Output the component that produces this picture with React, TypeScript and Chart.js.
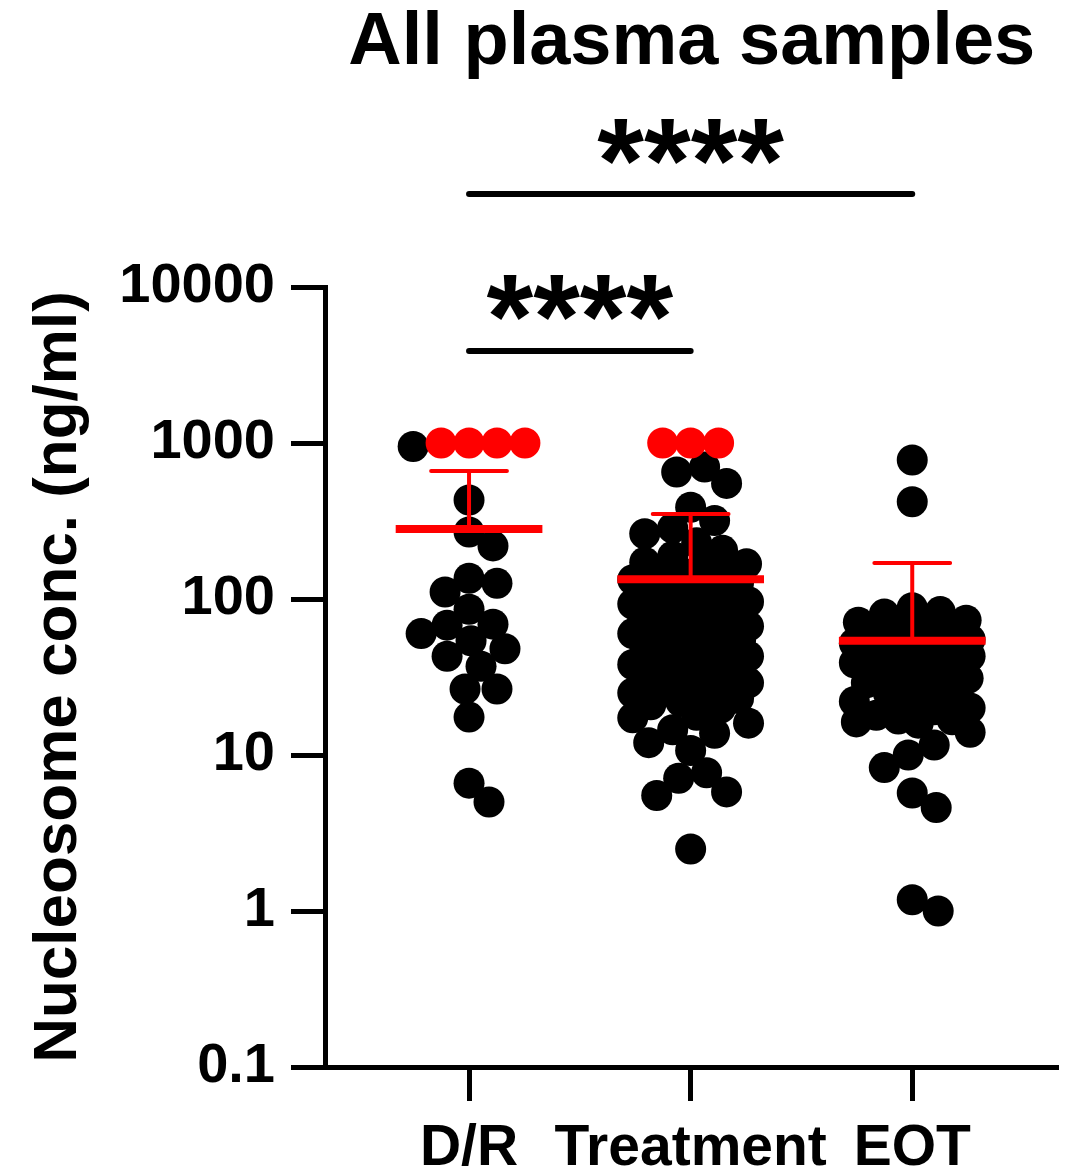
import React, { useEffect, useRef } from 'react';
import { Chart, registerables } from 'chart.js';

Chart.register(...registerables);

// ---------------- data ----------------
const categories = ['D/R', 'Treatment', 'EOT'];
const yTickValues = [0.1, 1, 10, 100, 1000, 10000];
const yTickLabels = ['0.1', '1', '10', '100', '1000', '10000'];

// values at the assay upper limit (shown in red)
const drAboveLimit = [1000, 1000, 1000, 1000];
const trtAboveLimit = [1000, 1000, 1000];
const eotAboveLimit: number[] = [];

const drValues = [950, 431, 269, 219, 136, 126, 111, 86, 69, 68, 60, 54, 48, 43, 37, 26.5, 26.5, 17.5, 6.6, 5.0];

const trtValues = [
  702, 652, 551, 387, 318, 285, 262, 229, 205, 188, 172, 168, 160, 152, 147, 141, 133, 127, 121, 116,
  112, 106, 101, 96, 93, 91, 87, 85, 82, 78, 75, 72, 70, 67, 64, 62, 60, 58, 56, 54, 52, 50, 48, 47,
  45, 43, 42, 40, 38, 37, 35, 34, 32, 31, 29, 28, 27, 26, 25, 24, 23, 22, 21, 20, 18,
  17.3, 16, 14.5, 13.8, 12, 10.7, 7.7, 7.1, 5.8, 5.5, 2.5,
];

const eotValues = [
  778, 420, 88, 83, 80, 73, 71, 66, 63, 60, 57, 55, 52, 50, 48, 47, 46, 44, 43, 41, 39, 37, 35, 33,
  31, 29, 29, 27, 25, 24, 22, 21, 20, 19.5, 18, 17, 16.8, 16.3, 16, 14, 11.6, 10, 8.3, 5.7, 4.6, 1.18, 1.0,
];

const means = [281, 134, 54];
const errorTops = [661, 351, 170];

const significance = [
  { from: 1, to: 3, label: '****' },
  { from: 1, to: 2, label: '****' },
];

const titleText = 'All plasma samples';
const yTitleText = 'Nucleosome conc. (ng/ml)';

// ---------------- styling ----------------
const W = 1074;
const H = 1171;
const FONT = '"Liberation Sans", Arial, Helvetica, sans-serif';
const RED = '#ff0000';
const POINT_R = 15.5;
const MIN_DIST = 27;
const STEP = 2;
const MAX_OFF = 58;
const MEAN_HALF = 0.331;
const CAP_HALF = 0.171;

export default function App() {
  const ref = useRef<HTMLCanvasElement>(null);

  useEffect(() => {
    document.body.style.margin = '0';
    const canvas = ref.current;
    if (!canvas) return;

    const groups = [
      { x: 1, black: drValues, red: drAboveLimit },
      { x: 2, black: trtValues, red: trtAboveLimit },
      { x: 3, black: eotValues, red: eotAboveLimit },
    ];

    const meanLine: any[] = [];
    const errLine: any[] = [];
    means.forEach((m, i) => {
      const x = i + 1;
      meanLine.push({ x: x - MEAN_HALF, y: m }, { x: x + MEAN_HALF, y: m }, { x: x + MEAN_HALF, y: null });
      errLine.push({ x, y: m }, { x, y: errorTops[i] }, { x, y: null });
      errLine.push({ x: x - CAP_HALF, y: errorTops[i] }, { x: x + CAP_HALF, y: errorTops[i] }, { x: x + CAP_HALF, y: null });
    });

    const overlay = {
      id: 'overlay',
      afterDraw(chart: any) {
        const ctx = chart.ctx as CanvasRenderingContext2D;
        const xs = chart.scales.x;
        const area = chart.chartArea;
        ctx.save();
        ctx.fillStyle = '#000';
        ctx.strokeStyle = '#000';

        // title
        ctx.font = `bold 74px ${FONT}`;
        ctx.textAlign = 'center';
        ctx.textBaseline = 'alphabetic';
        ctx.fillText(titleText, (area.left + area.right) / 2, 64);

        // significance bars
        const barYs = [194, 351];
        const starCenters = [141, 297];
        significance.forEach((s, i) => {
          const x1 = xs.getPixelForValue(s.from);
          const x2 = xs.getPixelForValue(s.to);
          ctx.lineWidth = 6;
          ctx.lineCap = 'round';
          ctx.beginPath();
          ctx.moveTo(x1, barYs[i]);
          ctx.lineTo(x2, barYs[i]);
          ctx.stroke();
          ctx.font = `bold 120px ${FONT}`;
          ctx.textAlign = 'center';
          ctx.textBaseline = 'alphabetic';
          const m = ctx.measureText(s.label);
          const base = starCenters[i] - (m.actualBoundingBoxDescent - m.actualBoundingBoxAscent) / 2;
          ctx.fillText(s.label, (x1 + x2) / 2, base);
        });

        // y title
        ctx.save();
        ctx.translate(76, (area.top + area.bottom) / 2);
        ctx.rotate(-Math.PI / 2);
        ctx.font = `bold 62px ${FONT}`;
        ctx.textAlign = 'center';
        ctx.textBaseline = 'alphabetic';
        ctx.fillText(yTitleText, 0, 0);
        ctx.restore();

        ctx.restore();
      },
    };

    const chart = new Chart(canvas, {
      type: 'scatter',
      data: {
        datasets: [
          {
            type: 'line',
            label: 'mean',
            data: meanLine,
            borderColor: RED,
            borderWidth: 8,
            pointRadius: 0,
            spanGaps: false,
            order: 0,
            borderCapStyle: 'butt',
          } as any,
          {
            type: 'line',
            label: 'error',
            data: errLine,
            borderColor: RED,
            borderWidth: 4,
            pointRadius: 0,
            spanGaps: false,
            order: 0,
            borderCapStyle: 'round',
          } as any,
          {
            label: 'above limit',
            data: [],
            backgroundColor: RED,
            borderWidth: 0,
            pointRadius: POINT_R,
            pointHoverRadius: POINT_R,
            order: 1,
          },
          {
            label: 'samples',
            data: [],
            backgroundColor: '#000',
            borderWidth: 0,
            pointRadius: POINT_R,
            pointHoverRadius: POINT_R,
            order: 2,
          },
        ],
      },
      options: {
        responsive: false,
        animation: false,
        devicePixelRatio: 1,
        events: [],
        layout: { padding: { top: 287, right: 14, left: 0, bottom: 0 } },
        plugins: { legend: { display: false }, tooltip: { enabled: false }, title: { display: false } },
        scales: {
          x: {
            type: 'linear',
            min: 0.35,
            max: 3.66,
            afterBuildTicks: (s: any) => {
              s.ticks = [1, 2, 3].map((v) => ({ value: v }));
            },
            afterFit: (s: any) => {
              s.height = 104;
            },
            ticks: {
              autoSkip: false,
              maxRotation: 0,
              padding: 14,
              color: '#000',
              font: { family: FONT, size: 57, weight: 'bold' },
              callback: (v: any) => categories[Math.round(Number(v)) - 1] ?? '',
            },
            grid: { display: true, drawOnChartArea: false, drawTicks: true, tickLength: 34, tickWidth: 5, tickColor: '#000' } as any,
            border: { display: true, width: 5, color: '#000' },
          },
          y: {
            type: 'logarithmic',
            min: 0.1,
            max: 10000,
            afterBuildTicks: (s: any) => {
              s.ticks = yTickValues.map((v) => ({ value: v }));
            },
            afterFit: (s: any) => {
              s.width = 325;
            },
            ticks: {
              autoSkip: false,
              padding: 16,
              color: '#000',
              font: { family: FONT, size: 56, weight: 'bold' },
              callback: (v: any) => {
                const i = yTickValues.findIndex((t) => Math.abs(Math.log10(t) - Math.log10(Number(v))) < 1e-6);
                return i >= 0 ? yTickLabels[i] : '';
              },
            },
            grid: { display: true, drawOnChartArea: false, drawTicks: true, tickLength: 34, tickWidth: 5, tickColor: '#000' } as any,
            border: { display: true, width: 5, color: '#000' },
          },
        },
      },
      plugins: [overlay],
    });

    // beeswarm-style horizontal spread computed in pixel space from the library's scales
    const xs = chart.scales.x;
    const ys = chart.scales.y;
    const pxPerUnit = xs.getPixelForValue(2) - xs.getPixelForValue(1);
    const redData: any[] = [];
    const blackData: any[] = [];
    groups.forEach((g) => {
      const items = [
        ...g.red.map((v) => ({ v, red: true })),
        ...g.black.map((v) => ({ v, red: false })),
      ].sort((a, b) => b.v - a.v);
      const placed: { dx: number; py: number }[] = [];
      items.forEach((it) => {
        const py = ys.getPixelForValue(it.v);
        let best = 0;
        let bestScore = -1;
        const maxK = Math.floor(MAX_OFF / STEP) * 2;
        for (let k = 0; k <= maxK; k++) {
          const dx = (k % 2 === 1 ? 1 : -1) * Math.ceil(k / 2) * STEP;
          let minD = Infinity;
          for (const p of placed) {
            const d = Math.hypot(p.dx - dx, p.py - py);
            if (d < minD) minD = d;
          }
          if (minD >= MIN_DIST) {
            best = dx;
            bestScore = Infinity;
            break;
          }
          if (minD > bestScore + 0.5) {
            bestScore = minD;
            best = dx;
          }
        }
        placed.push({ dx: best, py });
        (it.red ? redData : blackData).push({ x: g.x + best / pxPerUnit, y: it.v });
      });
    });
    chart.data.datasets[2].data = redData;
    chart.data.datasets[3].data = blackData;
    chart.update();

    return () => chart.destroy();
  }, []);

  return (
    <div style={{ width: W, height: H, background: '#fff' }}>
      <canvas ref={ref} width={W} height={H} style={{ display: 'block', width: W, height: H }} />
    </div>
  );
}
